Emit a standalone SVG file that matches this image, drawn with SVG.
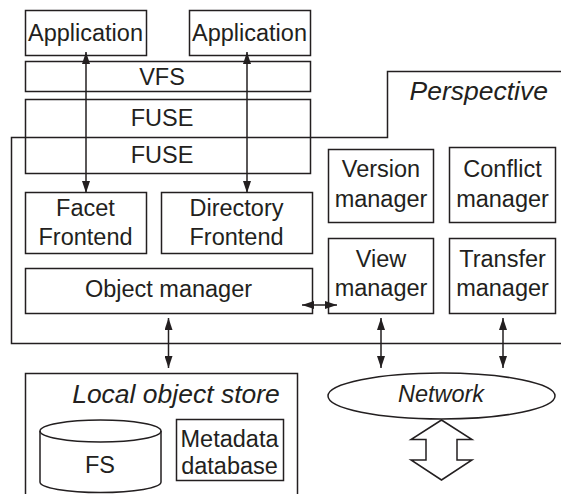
<svg xmlns="http://www.w3.org/2000/svg" width="561" height="494" viewBox="0 0 561 494">
<style>
.b{fill:none;stroke:#231f20;stroke-width:1.5}
.t{font-family:"Liberation Sans",Arial,sans-serif;font-size:23.5px;fill:#231f20;text-anchor:middle}
.i{font-style:italic}
.L{font-size:26.5px}
.c{fill:none;stroke:#231f20;stroke-width:1.5}
</style>
<defs>
<marker id="ah" markerUnits="userSpaceOnUse" markerWidth="12" markerHeight="8" refX="12" refY="4" orient="auto-start-reverse">
<path d="M0,0 L12,4 L0,8 z" fill="#231f20"/>
</marker>
</defs>
<g id="perspective">
<path class="b" d="M561,71.5 H387.5 V137.5 H11.5 V343.5 H561"/>
<text class="t i L" x="548" y="100" style="text-anchor:end">Perspective</text>
</g>
<g id="app1"><rect class="b" x="25.5" y="10.5" width="121" height="45"/><text class="t" x="85.5" y="41">Application</text></g>
<g id="app2"><rect class="b" x="189.5" y="10.5" width="121" height="45"/><text class="t" x="249.5" y="41">Application</text></g>
<g id="vfs"><rect class="b" x="25.5" y="61.5" width="285" height="30"/><text class="t" x="162" y="85">VFS</text></g>
<g id="fuse"><rect class="b" x="25.5" y="99.5" width="285" height="74"/><text class="t" x="162" y="126">FUSE</text><text class="t" x="162" y="163">FUSE</text></g>
<g id="facet"><rect class="b" x="25.5" y="192.5" width="121" height="61"/><text class="t" x="85.5" y="216">Facet</text><text class="t" x="85.5" y="245">Frontend</text></g>
<g id="directory"><rect class="b" x="161.5" y="192.5" width="151" height="61"/><text class="t" x="236.5" y="216">Directory</text><text class="t" x="236.5" y="245">Frontend</text></g>
<g id="object"><rect class="b" x="25.5" y="268.5" width="287" height="45"/><text class="t" x="168.5" y="297">Object manager</text></g>
<g id="version"><rect class="b" x="328.5" y="149.5" width="105" height="73"/><text class="t" x="381" y="177">Version</text><text class="t" x="381" y="207">manager</text></g>
<g id="conflict"><rect class="b" x="449.5" y="147.5" width="106" height="75"/><text class="t" x="502.5" y="177">Conflict</text><text class="t" x="502.5" y="207">manager</text></g>
<g id="view"><rect class="b" x="328.5" y="238.5" width="105" height="75"/><text class="t" x="381" y="267">View</text><text class="t" x="381" y="296">manager</text></g>
<g id="transfer"><rect class="b" x="449.5" y="238.5" width="106" height="75"/><text class="t" x="502.5" y="267">Transfer</text><text class="t" x="502.5" y="296">manager</text></g>
<g id="store">
<path class="b" d="M25.5,500 V373.5 H297.5 V500"/>
<text class="t i L" x="176" y="403">Local object store</text>
</g>
<g id="fs">
<path class="b" d="M40,431 V482 A60.5,10.5 0 0 0 161,482 V431"/>
<ellipse class="b" cx="100.5" cy="431" rx="60.5" ry="11"/>
<text class="t" x="100" y="473">FS</text>
</g>
<g id="metadata"><rect class="b" x="176.5" y="419.5" width="107" height="61"/><text class="t" x="229.5" y="447">Metadata</text><text class="t" x="229.5" y="474">database</text></g>
<g id="network"><ellipse class="b" cx="441.5" cy="396" rx="113.5" ry="23"/><text class="t i" x="441" y="402">Network</text></g>
<g id="bigarrow"><path class="b" d="M441.5,420 L472,439.5 H457 V460 H472 L441.5,480 L411,460 H426 V439.5 H411 Z"/></g>
<g id="connectors">
<line class="c" x1="86" y1="52" x2="86" y2="193" marker-start="url(#ah)" marker-end="url(#ah)"/>
<line class="c" x1="247" y1="52" x2="247" y2="193" marker-start="url(#ah)" marker-end="url(#ah)"/>
<line class="c" x1="302" y1="305" x2="337" y2="305" marker-start="url(#ah)" marker-end="url(#ah)"/>
<line class="c" x1="168.5" y1="318" x2="168.5" y2="368" marker-start="url(#ah)" marker-end="url(#ah)"/>
<line class="c" x1="381" y1="318" x2="381" y2="368" marker-start="url(#ah)" marker-end="url(#ah)"/>
<line class="c" x1="503" y1="318" x2="503" y2="368" marker-start="url(#ah)" marker-end="url(#ah)"/>
</g>
</svg>
